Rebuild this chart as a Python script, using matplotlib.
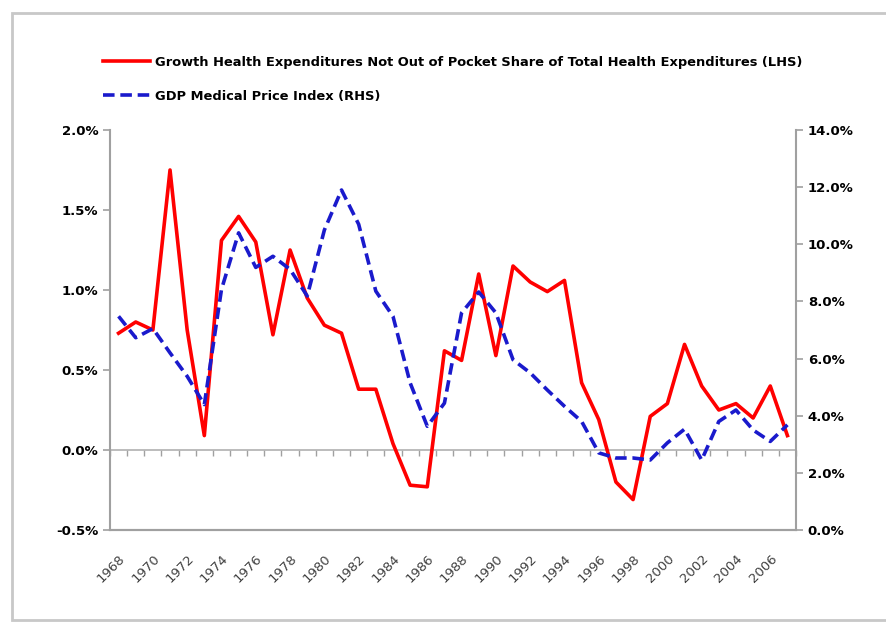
import numpy as np
import matplotlib.pyplot as plt
from matplotlib.patches import Rectangle
from matplotlib.ticker import FuncFormatter

plt.rcParams['font.family'] = ['DejaVu Sans']

years = list(range(1968, 2008))

# growth of non out-of-pocket share, percent (LHS)
share_growth = [0.73, 0.80, 0.75, 1.75, 0.75, 0.09, 1.31, 1.46, 1.30, 0.72,
                1.25, 0.95, 0.78, 0.73, 0.38, 0.38, 0.04, -0.22, -0.23, 0.62,
                0.56, 1.10, 0.59, 1.15, 1.05, 0.99, 1.06, 0.42, 0.19, -0.20,
                -0.31, 0.21, 0.29, 0.66, 0.40, 0.25, 0.29, 0.20, 0.40, 0.09]

# GDP medical price index, percent (RHS)
med_price = [7.48, 6.73, 7.05, 6.20, 5.38, 4.39, 8.42, 10.4, 9.19, 9.58,
             9.12, 8.19, 10.5, 11.9, 10.7, 8.36, 7.48, 5.15, 3.63, 4.44,
             7.60, 8.33, 7.60, 5.96, 5.50, 4.90, 4.33, 3.80, 2.70, 2.52,
             2.52, 2.45, 3.05, 3.53, 2.45, 3.80, 4.20, 3.50, 3.10, 3.68]

left_ticks = [-0.5, 0.0, 0.5, 1.0, 1.5, 2.0]
right_ticks = [0, 2, 4, 6, 8, 10, 12, 14]
label_years = years[::2]

fig = plt.figure(figsize=(8.87, 6.25), dpi=100)
fig.patches.append(Rectangle((12 / 887, 1 - 620 / 625), 1.0, (620 - 13) / 625,
                             transform=fig.transFigure, facecolor='white',
                             edgecolor='#c8c8c8', linewidth=2.0, zorder=-10))

ax = fig.add_axes([110 / 887, 1 - 530 / 625, (796 - 110) / 887, 400 / 625])
ax.patch.set_alpha(0)
x = np.arange(len(years))

l1, = ax.plot(x, share_growth, color='#ff0000', lw=2.6, zorder=3,
              label='Growth Health Expenditures Not Out of Pocket Share of Total Health Expenditures (LHS)')
ax.set_xlim(-0.5, len(years) - 0.5)
ax.set_ylim(-0.5, 2.0)
ax.set_yticks(left_ticks)
ax.yaxis.set_major_formatter(FuncFormatter(lambda v, p: '%.1f%%' % v))

ax2 = ax.twinx()
l2, = ax2.plot(x, med_price, color='#1a1acc', lw=2.6, dashes=(3.2, 1.6), zorder=3,
               label='GDP Medical Price Index (RHS)')
ax2.set_ylim(0, 14)
ax2.set_yticks(right_ticks)
ax2.yaxis.set_major_formatter(FuncFormatter(lambda v, p: '%.1f%%' % v))

for a in (ax, ax2):
    for s in a.spines.values():
        s.set_color('#a0a0a0')
        s.set_linewidth(1.5)
    a.spines['top'].set_visible(False)
    a.tick_params(axis='y', colors='#a0a0a0', labelcolor='black', length=5,
                  width=1.2, labelsize=9.5)
    for t in a.get_yticklabels():
        t.set_fontweight('bold')
ax2.spines['left'].set_visible(False)
ax.spines['right'].set_visible(False)

# category labels at the bottom
ax.set_xticks(x[::2])
ax.set_xticklabels([str(y) for y in label_years], rotation=45, ha='right',
                   rotation_mode='anchor', color='#404040', fontsize=9.5)
ax.tick_params(axis='x', length=0, pad=16)

# zero line with category tick marks
zero = ax.secondary_xaxis(0.5 / 2.5)
zero.set_xticks(np.arange(len(years) + 1) - 0.5)
zero.tick_params(axis='x', length=4, color='#a0a0a0', width=1.0, labelbottom=False)
zero.spines['bottom'].set_color('#b0b0b0')
zero.spines['bottom'].set_linewidth(1.2)

fig.legend(handles=[l1, l2], loc='upper left', bbox_to_anchor=(91 / 887, 1 - 44 / 625),
           frameon=False, handlelength=3.6, handletextpad=0.4, labelspacing=1.6,
           prop={'weight': 'bold', 'size': 9.4})

fig.savefig('out.png', dpi=100)
